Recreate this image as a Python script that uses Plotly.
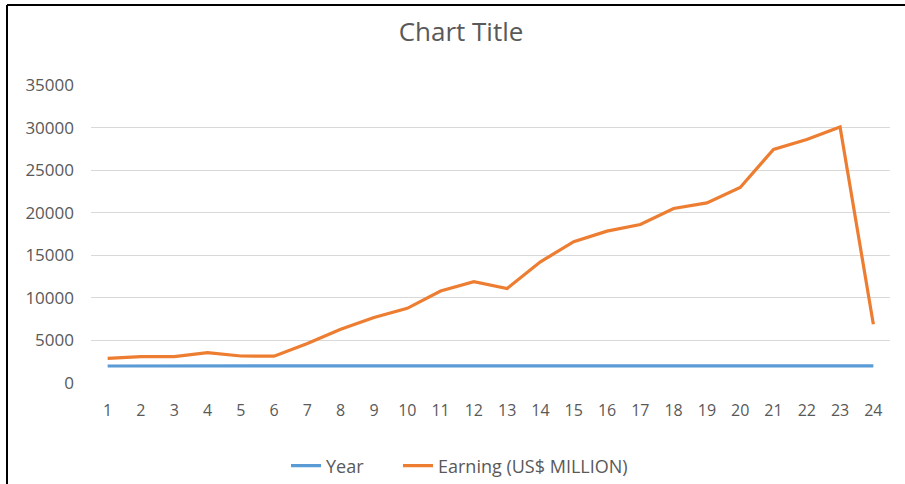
import plotly.graph_objects as go

periods = list(range(1, 25))
year = list(range(1995, 2019))
earning = [2900, 3090, 3100, 3560, 3170, 3150, 4650, 6300, 7700, 8770,
           10800, 11900, 11100, 14240, 16590, 17840, 18620, 20500, 21160,
           22970, 27430, 28600, 30080, 6900]
y_ticks = [0, 5000, 10000, 15000, 20000, 25000, 30000, 35000]

W, H = 905, 484
L, R, T = 91, 15, 85
BOTTOM = 383
B = H - BOTTOM
pw, ph = W - L - R, H - T - B

def px(x):
    return (x - L) / pw

def py(y):
    return (H - B - y) / ph

fig = go.Figure()
fig.add_trace(go.Scatter(x=periods, y=year, mode="lines", name="Year",
                         legend="legend",
                         line=dict(color="#5B9BD5", width=3.2)))
fig.add_trace(go.Scatter(x=periods, y=earning, mode="lines", name="Earning (US$ MILLION)",
                         legend="legend2",
                         line=dict(color="#ED7D31", width=3.2)))

gray = "#595959"
leg_common = dict(orientation="h", xref="container", yref="container",
                  xanchor="left", y=1 - 466 / H, yanchor="middle",
                  font=dict(size=18, color=gray), itemwidth=30,
                  bgcolor="rgba(0,0,0,0)")
fig.update_layout(
    width=W, height=H, autosize=False,
    margin=dict(l=L, r=R, t=T, b=B, autoexpand=False),
    paper_bgcolor="white", plot_bgcolor="white",
    font=dict(family="Open Sans", color=gray, size=16),
    title=dict(text="Chart Title", x=461 / W, xanchor="center",
               y=1 - 32 / H, yanchor="middle",
               font=dict(size=26, color=gray, family="Open Sans")),
    xaxis=dict(range=[0.5, 24.5], tickmode="array", tickvals=periods,
               ticktext=[str(p) for p in periods], showgrid=False, zeroline=False,
               showline=False, ticks="", ticklabelstandoff=16, automargin=False,
               tickfont=dict(size=16, color=gray)),
    yaxis=dict(range=[0, 35000], tickmode="array", tickvals=y_ticks,
               ticktext=[str(v) for v in y_ticks], showgrid=True,
               gridcolor="#D9D9D9", gridwidth=1, zeroline=False, showline=False,
               ticks="", ticklabelstandoff=16, automargin=False,
               tickfont=dict(size=17, color=gray)),
    legend=dict(x=286 / W, **leg_common),
    legend2=dict(x=398 / W, **leg_common),
    showlegend=True,
)

# chart frame (left and top edges)
fig.add_shape(type="line", xref="paper", yref="paper", x0=px(7), x1=px(7),
              y0=py(5), y1=py(H), line=dict(color="black", width=2))
fig.add_shape(type="line", xref="paper", yref="paper", x0=px(7), x1=px(905),
              y0=py(5), y1=py(5), line=dict(color="black", width=2))

fig.write_html("out.html")
